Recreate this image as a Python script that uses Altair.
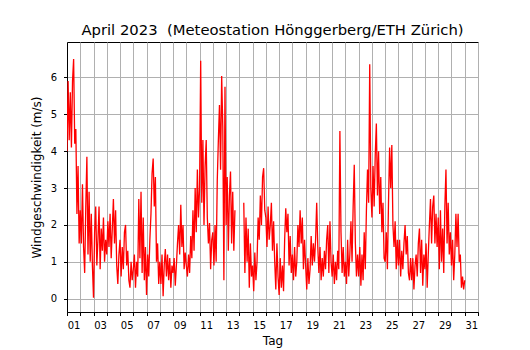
import altair as alt
import pandas as pd

chart_title = "April 2023 \u00a0(Meteostation Hönggerberg/ETH Zürich)"
x_title = "Tag"
y_title = "Windgeschwindigkeit (m/s)"
day_ticks = list(range(1, 33))
y_ticks = [0, 1, 2, 3, 4, 5, 6]

# Wind speed (m/s), readings every 2 h (00, 02, ..., 22 h) for each day of April 2023
# None = missing reading
d01 = [4.0, 5.9, 4.3, 5.6, 4.1, 5.9, 6.5, 4.2, 4.6, 2.3, 3.6, 1.5]
d02 = [2.4, 1.5, 3.1, 1.4, 0.7, 2.5, 3.85, 1.2, 2.9, 1.0, 2.3, 0.9]
d03 = [0.03, 1.8, 2.5, 0.9, 1.6, 2.5, 0.8, 1.9, 1.3, 2.2, 1.0, 1.6]
d04 = [1.2, 2.1, 1.4, 2.3, 1.1, 1.9, 2.7, 1.5, 2.4, 0.9, 0.4, 1.2]
d05 = [1.6, 0.6, 1.4, 0.8, 1.8, 2.0, 0.9, 1.3, 0.5, 0.3, 1.0, 0.5]
d06 = [0.8, 1.2, 0.3, 1.0, 0.6, 2.7, 1.1, 2.9, 0.7, 2.2, 0.5, 1.4]
d07 = [0.1, 1.2, 0.6, 1.6, 2.3, 3.4, 3.8, 2.5, 3.3, 1.0, 1.5, 0.4]
d08 = [1.0, 0.4, 1.2, 0.07, 0.9, 1.35, 0.6, 1.2, 0.5, 1.1, 0.3, 0.9]
d09 = [0.7, 1.1, 0.35, 0.9, 1.5, 2.0, 1.2, 2.55, 1.4, 2.0, 0.8, 1.25]
d10 = [0.9, 0.6, 1.2, 0.7, 1.7, 1.1, 2.4, 1.3, 3.0, 1.8, 3.5, 2.2]
d11 = [3.0, 6.45, 2.6, 4.3, 2.0, 3.6, 4.3, 2.2, 1.5, 2.05, 0.8, 1.6]
d12 = [1.8, 0.9, 2.0, 1.0, 3.2, 4.3, 5.25, 3.5, 6.04, 4.67, 0.5, 5.75]
d13 = [2.0, 3.3, 1.3, 2.8, 3.45, 1.5, 2.9, 1.3, 2.4, None, None, None]
d14 = [None, None, None, None, 2.6, 0.7, 2.2, 1.0, 1.9, 0.3, 1.5, 0.6]
d15 = [0.9, 0.2, 1.25, 0.5, 1.0, 2.2, 1.6, 2.8, 2.0, 3.3, 3.54, 2.4]
d16 = [2.2, 1.4, 2.5, 1.6, 2.0, 2.6, 1.3, 2.1, 1.0, 0.25, 1.5, 0.6]
d17 = [0.1, 1.1, 0.3, 0.9, 0.2, 1.6, 2.45, 1.8, 2.3, 0.9, 1.7, 0.7]
d18 = [1.2, 0.5, 1.4, 0.6, 1.0, 2.0, 1.4, 2.4, 1.5, 2.2, 0.8, 1.6]
d19 = [0.9, 0.25, 1.1, 0.4, 0.8, 1.7, 0.9, 1.5, 1.0, 1.6, 2.6, 1.4]
d20 = [0.7, 1.4, 0.5, 1.1, 0.6, 1.3, 0.8, 1.6, 2.0, 0.7, 2.1, 1.0]
d21 = [0.6, 1.2, 0.4, 1.0, 0.5, 1.3, 0.8, 4.55, 1.8, 0.7, 1.4, 0.6]
d22 = [1.0, 0.4, 1.6, 0.6, 1.2, 2.1, 1.0, 2.5, 3.63, 1.5, 0.6, 1.2]
d23 = [0.6, 1.4, 0.35, 1.2, 0.5, 1.8, 0.8, 2.4, 3.5, 2.6, 6.36, 3.0]
d24 = [2.2, 3.6, 2.5, 3.9, 4.75, 2.8, 4.0, 2.3, 3.3, 1.8, 2.6, 1.1]
d25 = [1.0, 1.8, 0.8, 2.6, 4.1, 3.0, 4.17, 2.0, 1.4, 2.1, 0.8, 1.6]
d26 = [0.9, 1.6, 0.6, 1.3, 0.8, 1.5, 2.0, 1.2, 1.7, 0.7, 0.5, 1.1]
d27 = [0.5, 1.1, 0.25, 0.9, 1.2, 0.6, 1.5, 1.9, 0.7, 1.6, 0.35, 1.2]
d28 = [0.8, 1.5, 0.3, 1.2, 2.0, 2.7, 1.5, 2.5, 2.8, 1.5, 2.3, 1.4]
d29 = [2.2, 0.8, 2.4, 1.0, 1.9, 0.7, 2.5, 3.5, 1.5, 2.6, 1.2, 1.8]
d30 = [0.9, 1.6, 0.5, 1.2, 2.3, 1.4, 2.3, 1.0, 1.2, 0.3, 0.6, 0.25]
d31 = [0.5]

days = [d01, d02, d03, d04, d05, d06, d07, d08, d09, d10,
        d11, d12, d13, d14, d15, d16, d17, d18, d19, d20,
        d21, d22, d23, d24, d25, d26, d27, d28, d29, d30, d31]

rows = []
seg = 0
gap = False
for di, vals in enumerate(days):
    for k, v in enumerate(vals):
        if v is None:
            gap = True
            continue
        if gap:
            seg += 1
            gap = False
        rows.append({"t": 1 + di + k / 12.0, "v": v, "seg": seg})
df = pd.DataFrame(rows)

FONT = "DejaVu Sans"

label_expr = ("datum.value % 2 == 1 && datum.value < 32 ? "
              "(datum.value < 10 ? '0' + datum.value : '' + datum.value) : ''")

chart = (
    alt.Chart(df)
    .mark_line(color="#ff0000", strokeWidth=1.3, clip=True)
    .encode(
        x=alt.X(
            "t:Q",
            scale=alt.Scale(domain=[1, 32], nice=False, zero=False),
            axis=alt.Axis(
                values=day_ticks,
                labelExpr=label_expr,
                labelOffset=6.6,
                labelOverlap=False,
                labelFlush=False,
                title=x_title,
                titleFontWeight="normal",
                titlePadding=5,
                labelPadding=5,
            ),
        ),
        y=alt.Y(
            "v:Q",
            scale=alt.Scale(domain=[-0.36, 6.96], nice=False, zero=False),
            axis=alt.Axis(
                values=y_ticks,
                format="d",
                title=y_title,
                titleFontWeight="normal",
                titlePadding=7,
                labelPadding=7,
            ),
        ),
        detail="seg:N",
    )
    .properties(
        width=411,
        height=270,
        background="white",
        title=alt.TitleParams(
            chart_title,
            fontSize=14.8,
            font=FONT,
            fontWeight="normal",
            anchor="middle",
            frame="group",
            offset=4,
            color="black",
        ),
        autosize=alt.AutoSizeParams(type="none"),
        padding={"left": 59, "top": 34, "right": 40, "bottom": 40},
    )
    .configure_view(stroke="black", strokeWidth=1)
    .configure_axis(
        labelFont=FONT,
        titleFont=FONT,
        labelFontSize=10,
        titleFontSize=12,
        titleFontWeight="normal",
        labelColor="black",
        titleColor="black",
        domainColor="black",
        domainWidth=1,
        tickColor="black",
        tickSize=3.5,
        tickWidth=1,
        grid=True,
        gridColor="#b0b0b0",
        gridWidth=1,
    )
)

chart.save("out.html", embed_options={"renderer": "svg", "actions": False})
